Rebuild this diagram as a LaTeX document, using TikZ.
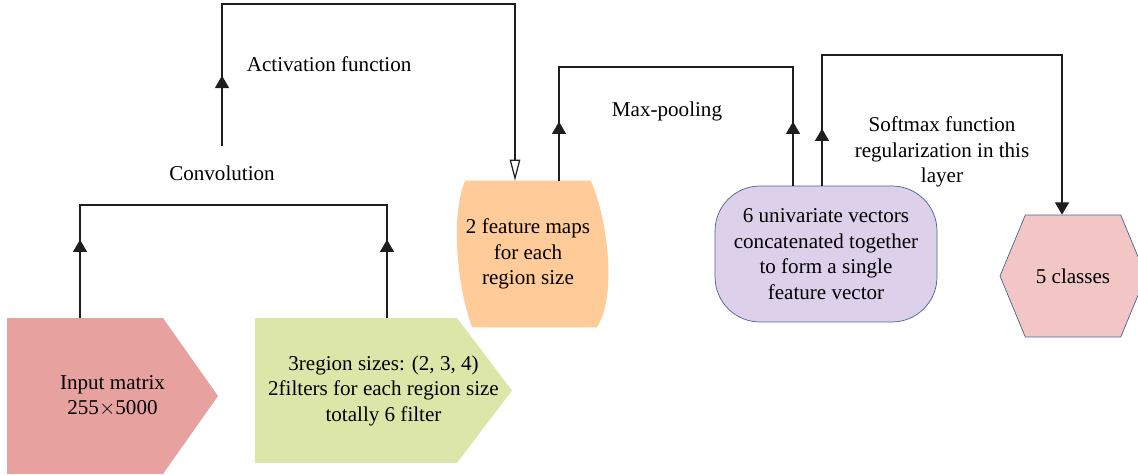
\documentclass[tikz,border=0pt]{standalone}
\usepackage{fontspec}
\setmainfont{Liberation Serif}
\usetikzlibrary{shapes.symbols, arrows.meta, decorations.markings, backgrounds, positioning}
\usepackage{xcolor}
\definecolor{InputPink}{RGB}{231,161,159}
\definecolor{FilterGreen}{RGB}{220,230,168}
\definecolor{MapOrange}{RGB}{254,203,153}
\definecolor{VecLilac}{RGB}{221,208,235}
\definecolor{ClassRose}{RGB}{242,198,197}
\definecolor{EdgeBlue}{RGB}{72,98,148}
\definecolor{LinkGray}{RGB}{30,30,30}

\begin{document}
\begin{tikzpicture}[
          x=0.02cm, y=-0.02cm,
          font=\fontsize{12}{14.5}\selectfont,
          block/.style={align=center, inner sep=2pt},
          tagbox/.style={block, path picture={
              \fill[#1] (path picture bounding box.north west)
                -- ([xshift=-1.1cm]path picture bounding box.north east)
                -- (path picture bounding box.east)
                -- ([xshift=-1.1cm]path picture bounding box.south east)
                -- (path picture bounding box.south west) -- cycle;}},
          link/.style={line width=0.7pt, draw=LinkGray},
          up at/.style={postaction={decorate, decoration={markings,
              mark=at position #1 with {\arrow{Triangle[width=8pt,length=7pt]}}}}},
          down at/.style={postaction={decorate, decoration={markings,
              mark=at position #1 with {\arrowreversed{Triangle[width=8pt,length=7pt]}}}}}
        ]
          \useasboundingbox (0,0) rectangle (1138,475);

          % layer blocks
          \node (input) [tagbox=InputPink, minimum width=4.22cm, minimum height=3.12cm] at (112.5,396) {Input matrix\\255$\times$5000};
          \node (filters) [tagbox=FilterGreen, minimum width=5.14cm, minimum height=2.9cm] at (383.5,390.5) {3region sizes: (2, 3, 4)\\2filters for each region size\\totally 6 filter};
          \node (fmaps) [block, inner sep=0pt, minimum width=2.5cm, minimum height=2.92cm] at (528,254) {2 feature maps\\for each\\region size};
          \node (vec) [block, draw=EdgeBlue, fill=VecLilac, rounded corners=0.9cm, minimum width=4.44cm, minimum height=2.72cm] at (826,254) {6 univariate vectors\\concatenated together\\to form a single\\feature vector};
          \node (classes) [block, signal, signal to=east and west, signal pointer angle=135, draw=EdgeBlue, fill=ClassRose, minimum width=2.92cm, minimum height=2.44cm] at (1073,276) {5 classes};

          % barrel outline behind the feature maps
          \begin{scope}[on background layer]
            \fill[MapOrange] (fmaps.north west)
              .. controls +(-0.3cm,-0.7cm) and +(-0.3cm,0.8cm) .. ([xshift=0.14cm]fmaps.south west)
              -- ([xshift=0.12cm]fmaps.south east)
              .. controls +(0.4cm,0.6cm) and +(0.35cm,-0.8cm) .. (fmaps.north east) -- cycle;
          \end{scope}

          % operation labels
          \node (convlbl) [block] at (222,173) {Convolution};
          \node (actlbl) [block, anchor=west] at (243,64) {Activation function};
          \node (poollbl) [block] at (667,111) {Max-pooling};
          \node (softlbl) [block] at (942,152) {Softmax function\\regularization in this\\layer};

          \coordinate (convbar) at (233,205);
          \coordinate (actbar) at (370,4);
          \coordinate (poolbar) at (676,67);
          \coordinate (softbar) at (942,55);

          % connectors
          \draw [link, up at=1.56cm, down at=-1.56cm] ([xshift=-0.65cm]input.north) |- (convbar) -| ([xshift=0.07cm]filters.north);
          \draw [link, up at=1.4cm, -{Triangle[open,width=6pt,length=12pt]}] ([yshift=0.32cm]convlbl.north) |- (actbar) -| ([xshift=-0.26cm]fmaps.north);
          \draw [link, up at=1.18cm, down at=-1.28cm] ([xshift=0.62cm]fmaps.north) |- (poolbar) -| ([xshift=-0.66cm]vec.north);
          \draw [link, up at=1.14cm, -{Triangle[width=8pt,length=7pt]}] ([xshift=-0.08cm]vec.north) |- (softbar) -| ([xshift=-0.22cm]classes.north);
        \end{tikzpicture}
\end{document}
